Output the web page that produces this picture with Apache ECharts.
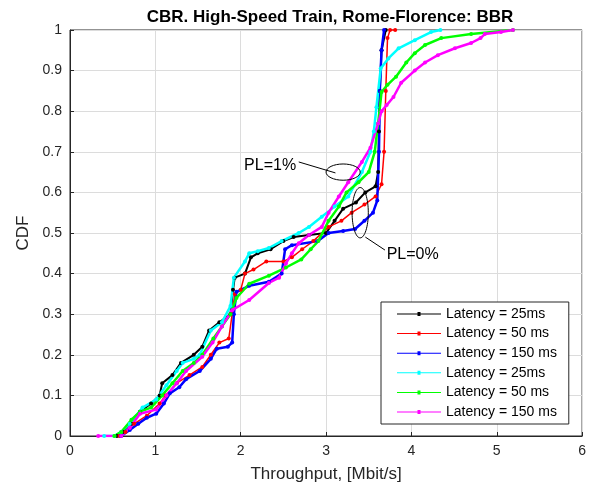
<!DOCTYPE html>
<html>
<head>
<meta charset="utf-8">
<script src="https://cdn.jsdelivr.net/npm/echarts@6/dist/echarts.min.js"></script>
<style>
  html, body { margin: 0; padding: 0; background: #fff; }
  #chart { width: 589px; height: 489px; }
</style>
</head>
<body>
<div id="chart"></div>
<script>
// [throughput Mbit/s, CDF]
const lat25PL0 = [[0.55,0],[0.62,0.01],[0.72,0.03],[0.82,0.06],[0.95,0.08],[1.05,0.1],[1.08,0.13],[1.2,0.15],[1.3,0.18],[1.45,0.2],[1.55,0.22],[1.63,0.26],[1.75,0.28],[1.88,0.3],[1.91,0.36],[1.93,0.39],[2.05,0.4],[2.12,0.44],[2.2,0.45],[2.35,0.46],[2.5,0.48],[2.62,0.49],[2.8,0.495],[3.0,0.5],[3.1,0.53],[3.2,0.56],[3.35,0.575],[3.46,0.6],[3.58,0.615],[3.61,0.65],[3.62,0.75],[3.63,0.85],[3.65,0.95],[3.7,1.0]]
const lat50PL0 = [[0.58,0],[0.65,0.01],[0.75,0.03],[0.9,0.05],[1.05,0.08],[1.12,0.1],[1.25,0.13],[1.4,0.15],[1.55,0.17],[1.65,0.2],[1.75,0.23],[1.86,0.24],[1.9,0.3],[1.93,0.35],[2.0,0.36],[2.05,0.4],[2.15,0.41],[2.3,0.43],[2.5,0.43],[2.6,0.44],[2.72,0.46],[2.85,0.48],[3.03,0.515],[3.18,0.53],[3.3,0.55],[3.45,0.57],[3.58,0.59],[3.65,0.62],[3.68,0.7],[3.7,0.85],[3.72,0.98],[3.75,1.0],[3.81,1.0]]
const lat150PL0 = [[0.6,0],[0.7,0.015],[0.8,0.03],[0.9,0.045],[1.01,0.055],[1.1,0.08],[1.17,0.105],[1.28,0.12],[1.36,0.14],[1.52,0.16],[1.65,0.19],[1.72,0.215],[1.85,0.22],[1.9,0.23],[1.92,0.3],[1.95,0.355],[2.1,0.37],[2.33,0.38],[2.48,0.4],[2.52,0.46],[2.6,0.47],[2.9,0.48],[3.03,0.5],[3.2,0.505],[3.34,0.51],[3.45,0.53],[3.55,0.55],[3.6,0.58],[3.62,0.7],[3.63,0.85],[3.65,0.95],[3.68,1.0]]
const lat25PL1 = [[0.4,0],[0.52,0],[0.6,0.01],[0.7,0.03],[0.85,0.07],[1.01,0.09],[1.13,0.125],[1.25,0.16],[1.32,0.18],[1.45,0.19],[1.52,0.2],[1.65,0.26],[1.78,0.28],[1.88,0.32],[1.92,0.39],[2.05,0.43],[2.1,0.45],[2.2,0.455],[2.33,0.463],[2.48,0.48],[2.68,0.5],[2.8,0.515],[2.95,0.54],[3.1,0.565],[3.26,0.59],[3.42,0.65],[3.52,0.7],[3.56,0.75],[3.59,0.81],[3.64,0.905],[3.73,0.93],[3.85,0.955],[4.04,0.975],[4.23,0.995],[4.34,1.0]]
const lat50PL1 = [[0.52,0],[0.6,0.01],[0.72,0.04],[0.82,0.06],[0.95,0.07],[1.08,0.1],[1.2,0.13],[1.32,0.16],[1.45,0.18],[1.55,0.2],[1.68,0.24],[1.78,0.27],[1.88,0.3],[1.95,0.34],[2.1,0.375],[2.33,0.395],[2.53,0.415],[2.71,0.435],[2.82,0.46],[2.91,0.48],[3.03,0.53],[3.15,0.565],[3.24,0.6],[3.38,0.625],[3.5,0.65],[3.57,0.7],[3.61,0.77],[3.65,0.847],[3.72,0.865],[3.82,0.885],[3.94,0.92],[4.04,0.943],[4.16,0.963],[4.35,0.98],[4.7,0.99],[5.19,1.0]]
const lat150PL1 = [[0.33,0],[0.6,0],[0.7,0.02],[0.82,0.055],[1.01,0.065],[1.13,0.1],[1.25,0.13],[1.36,0.16],[1.55,0.195],[1.67,0.23],[1.78,0.27],[1.9,0.31],[2.1,0.335],[2.33,0.377],[2.45,0.39],[2.53,0.425],[2.6,0.45],[2.68,0.475],[2.8,0.495],[2.95,0.515],[3.03,0.55],[3.15,0.59],[3.26,0.625],[3.42,0.675],[3.52,0.71],[3.61,0.77],[3.65,0.8],[3.71,0.815],[3.79,0.835],[3.88,0.87],[4.04,0.9],[4.16,0.92],[4.31,0.938],[4.51,0.955],[4.7,0.968],[4.81,0.98],[4.86,0.99],[5.05,0.995],[5.19,1.0]]

const seriesNames = ['Latency = 25ms', 'Latency = 50 ms', 'Latency = 150 ms', 'Latency = 25ms ', 'Latency = 50 ms ', 'Latency = 150 ms ']
const seriesColors = ['#000000', '#ff0000', '#0000ff', '#00ffff', '#00ff00', '#ff00ff']
const seriesWidths = [2, 1.5, 2.5, 2.5, 2.5, 2.5]
const seriesData = [lat25PL0, lat50PL0, lat150PL0, lat25PL1, lat50PL1, lat150PL1]

const font = 'Arial, "Liberation Sans", sans-serif'
// legend icon: thin line with a small dot in the middle
const legendIcon = 'path://M0,6.5 L44,6.5 L44,7.5 L0,7.5 Z M20.5,5 L23.5,5 L23.5,9 L20.5,9 Z'
const chart = echarts.init(document.getElementById('chart'))

chart.setOption({
    animation: false,
    backgroundColor: '#fff',
    textStyle: { fontFamily: font },
    title: {
        text: 'CBR. High-Speed Train, Rome-Florence: BBR',
        left: 325,
        textAlign: 'center',
        top: 4,
        textStyle: { fontSize: 17, fontWeight: 'bold', color: '#000', fontFamily: font }
    },
    grid: {
        left: 70, right: 1, top: 30, bottom: 53,
        show: true, borderColor: '#262626', borderWidth: 1
    },
    legend: {
        orient: 'vertical',
        left: 381, top: 302,
        padding: [5, 8, 5, 16],
        itemGap: 5.6,
        itemWidth: 44,
        itemHeight: 14,
        backgroundColor: '#fff',
        borderColor: '#262626',
        borderWidth: 1,
        borderRadius: 0,
        textStyle: { fontSize: 14, color: '#000', fontFamily: font },
        data: seriesNames.map(n => ({ name: n, icon: legendIcon }))
    },
    xAxis: {
        type: 'value', min: 0, max: 6, interval: 1,
        name: 'Throughput, [Mbit/s]',
        nameLocation: 'middle', nameGap: 30,
        nameTextStyle: { fontSize: 17, color: '#262626' },
        axisLine: { lineStyle: { color: '#262626' } },
        axisTick: { inside: true, length: 4, lineStyle: { color: '#262626' } },
        axisLabel: { fontSize: 14, color: '#262626', margin: 8 },
        splitLine: { lineStyle: { color: '#dcdcdc' } }
    },
    yAxis: {
        type: 'value', min: 0, max: 1, interval: 0.1,
        name: 'CDF',
        nameLocation: 'middle', nameGap: 34,
        nameTextStyle: { fontSize: 17, color: '#262626' },
        axisLine: { lineStyle: { color: '#262626' } },
        axisTick: { inside: true, length: 4, lineStyle: { color: '#262626' } },
        axisLabel: { fontSize: 14, color: '#262626', margin: 8 },
        splitLine: { lineStyle: { color: '#dcdcdc' } }
    },
    series: seriesData.map((d, i) => ({
        name: seriesNames[i],
        type: 'line',
        data: d,
        symbol: 'circle',
        symbolSize: 4,
        showSymbol: true,
        color: seriesColors[i],
        itemStyle: { color: seriesColors[i] },
        lineStyle: { color: seriesColors[i], width: seriesWidths[i] }
    }))
})

// annotations: ellipses, leader lines and labels placed in data space
function px (x, y) { return chart.convertToPixel({ gridIndex: 0 }, [x, y]) }
const ellipses = [
    { c: [3.2, 0.65], rx: 0.2, ry: 0.02 },
    { c: [3.4, 0.55], rx: 0.095, ry: 0.062 }
]
const leaders = [
    [[2.68, 0.675], [3.11, 0.648]],
    [[3.46, 0.49], [3.69, 0.458]]
]
const labels = [
    { text: 'PL=1%', at: [2.04, 0.667] },
    { text: 'PL=0%', at: [3.71, 0.446] }
]
const graphics = []
ellipses.forEach(e => {
    const c = px(e.c[0], e.c[1])
    const r = px(e.c[0] + e.rx, e.c[1] + e.ry)
    graphics.push({
        type: 'ellipse', z: 100,
        shape: { cx: c[0], cy: c[1], rx: r[0] - c[0], ry: c[1] - r[1] },
        style: { fill: null, stroke: '#000', lineWidth: 1 }
    })
})
leaders.forEach(l => {
    const a = px(l[0][0], l[0][1])
    const b = px(l[1][0], l[1][1])
    graphics.push({
        type: 'line', z: 100,
        shape: { x1: a[0], y1: a[1], x2: b[0], y2: b[1] },
        style: { stroke: '#000', lineWidth: 1 }
    })
})
labels.forEach(t => {
    const p = px(t.at[0], t.at[1])
    graphics.push({
        type: 'text', z: 100, x: p[0], y: p[1],
        style: { text: t.text, fontSize: 16, fill: '#000', font: '16px ' + font, verticalAlign: 'middle', align: 'left' }
    })
})
chart.setOption({ graphic: graphics })
</script>
</body>
</html>
